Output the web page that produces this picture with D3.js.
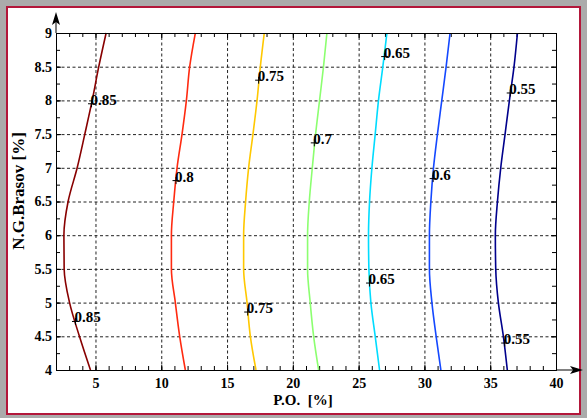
<!DOCTYPE html>
<html>
<head>
<meta charset="utf-8">
<script src="https://cdn.jsdelivr.net/npm/d3@7"></script>
<style>
	body { margin: 0; background: #ababab; }
	svg { display: block; }
</style>
</head>
<body>
<div id="grafika"></div>
<script>
// уровни по оси Y, на которых сняты контуры
const yLevels = [4, 4.5, 5, 5.5, 6, 6.5, 7, 7.5, 8, 8.5, 9];
const x085 = [4.62, 3.78, 3.03, 2.62, 2.6, 2.92, 3.61, 4.19, 4.75, 5.25, 5.81];
const x080 = [11.83, 11.4, 11.07, 10.77, 10.77, 10.95, 11.2, 11.58, 11.91, 12.16, 12.59];
const x075 = [17.2, 16.77, 16.52, 16.26, 16.26, 16.41, 16.64, 16.97, 17.28, 17.53, 17.83];
const x070 = [21.96, 21.58, 21.32, 21.12, 21.12, 21.25, 21.48, 21.73, 22.03, 22.33, 22.59];
const x065 = [26.59, 26.26, 25.93, 25.78, 25.75, 25.83, 26.01, 26.26, 26.51, 26.84, 27.15];
const x060 = [31.25, 30.89, 30.57, 30.38, 30.38, 30.49, 30.69, 30.99, 31.32, 31.65, 31.95];
const x055 = [36.3, 36.0, 35.62, 35.42, 35.39, 35.55, 35.8, 36.13, 36.46, 36.81, 37.07];

const levels = ["0.85", "0.8", "0.75", "0.7", "0.65", "0.6", "0.55"];
const levelColors = ["#880000", "#ff2a10", "#ffc800", "#8cff70", "#00dcff", "#1448ff", "#00008c"];
const contours = [x085, x080, x075, x070, x065, x060, x055];

const labelText = ["0.85", "0.85", "0.8", "0.75", "0.75", "0.7", "0.65", "0.65", "0.6", "0.55", "0.55"];
const labelX = [4.7, 3.48, 11.12, 17.4, 16.57, 21.63, 26.98, 25.83, 30.66, 36.52, 36.1];
const labelY = [7.95, 4.72, 6.81, 8.3, 4.86, 7.37, 8.65, 5.29, 6.84, 8.11, 4.4];

const xTicks = [5, 10, 15, 20, 25, 30, 35, 40];
const yTicks = [4, 4.5, 5, 5.5, 6, 6.5, 7, 7.5, 8, 8.5, 9];
const xMinor = d3.range(3, 40, 1);
const yMinor = d3.range(4.25, 9, 0.25);

const W = 587, H = 418;
const margins = { top: 33, right: 31, bottom: 48, left: 56 };
const x_scale = d3.scaleLinear().domain([2, 40]).range([margins.left, W - margins.right]);
const y_scale = d3.scaleLinear().domain([4, 9]).range([H - margins.bottom, margins.top]);
const x0 = x_scale.range()[0], x1 = x_scale.range()[1];
const y0 = y_scale.range()[0], y1 = y_scale.range()[1];

const svg = d3.select("#grafika")
	.append("svg")
	.attr("width", W)
	.attr("height", H);

// рамка
svg.append("rect").attr("width", W).attr("height", H).attr("fill", "#ababab");
svg.append("rect")
	.attr("x", 7).attr("y", 7)
	.attr("width", 573).attr("height", 407)
	.attr("fill", "#fff")
	.attr("stroke", "#b3173a")
	.attr("stroke-width", 2);

const fmt = d => String(d);
const font = "'Liberation Serif', 'Times New Roman', serif";

// сетка
svg.append("g")
	.attr("class", "grid")
	.attr("transform", `translate(0, ${y0})`)
	.call(d3.axisBottom(x_scale).tickValues(xTicks.filter(d => d < 40)).tickSize(-(y0 - y1)).tickFormat(""))
	.call(g => g.select(".domain").remove());
svg.append("g")
	.attr("class", "grid")
	.attr("transform", `translate(${x0}, 0)`)
	.call(d3.axisLeft(y_scale).tickValues(yTicks.filter(d => d > 4 && d < 9)).tickSize(-(x1 - x0)).tickFormat(""))
	.call(g => g.select(".domain").remove());
svg.selectAll(".grid line")
	.attr("stroke", "#222")
	.attr("stroke-dasharray", "3,2.5");

// мелкие засечки внутрь со всех сторон
const minor = [
	[d3.axisBottom(x_scale).tickValues(xMinor), `translate(0, ${y0})`],
	[d3.axisTop(x_scale).tickValues(xMinor), `translate(0, ${y1})`],
	[d3.axisLeft(y_scale).tickValues(yMinor), `translate(${x0}, 0)`],
	[d3.axisRight(y_scale).tickValues(yMinor), `translate(${x1}, 0)`]
];
minor.forEach(([ax, tr]) => {
	svg.append("g")
		.attr("transform", tr)
		.call(ax.tickSize(-4).tickFormat(""))
		.call(g => g.select(".domain").remove());
});

// контуры
const line = d3.line()
	.x(d => x_scale(d[0]))
	.y(d => y_scale(d[1]))
	.curve(d3.curveMonotoneY);

svg.append("g")
	.attr("class", "contours")
	.selectAll("path")
	.data(contours)
	.join("path")
	.attr("d", xs => line(xs.map((v, i) => [v, yLevels[i]])))
	.attr("fill", "none")
	.attr("stroke", (d, i) => levelColors[i])
	.attr("stroke-width", 1.6);

// оси
svg.append("g")
	.attr("class", "x axis")
	.attr("transform", `translate(0, ${y0})`)
	.call(d3.axisBottom(x_scale).tickValues(xTicks).tickSize(-5).tickPadding(8).tickFormat(fmt));
svg.append("g")
	.attr("class", "y axis")
	.attr("transform", `translate(${x0}, 0)`)
	.call(d3.axisLeft(y_scale).tickValues(yTicks).tickSize(-5).tickPadding(4).tickFormat(fmt));
svg.append("g")
	.attr("transform", `translate(0, ${y1})`)
	.call(d3.axisTop(x_scale).tickValues(xTicks).tickSize(-5).tickFormat(""));
svg.append("g")
	.attr("transform", `translate(${x1}, 0)`)
	.call(d3.axisRight(y_scale).tickValues(yTicks).tickSize(-5).tickFormat(""));

svg.selectAll(".axis text")
	.attr("font-family", font)
	.attr("font-size", 14)
	.attr("font-weight", "bold")
	.attr("fill", "#000");
svg.selectAll(".domain").attr("stroke", "#000");
svg.selectAll(".tick line").filter(function() { return !this.closest(".grid"); }).attr("stroke", "#000");

// стрелки осей
svg.append("line")
	.attr("x1", x0).attr("x2", x0)
	.attr("y1", y1).attr("y2", 16)
	.attr("stroke", "#000");
svg.append("path")
	.attr("d", `M${x0},12 L${x0 - 4},25 L${x0},22 L${x0 + 4},25 Z`)
	.attr("fill", "#000");
svg.append("line")
	.attr("x1", x1).attr("x2", 578)
	.attr("y1", y0).attr("y2", y0)
	.attr("stroke", "#000");
svg.append("path")
	.attr("d", `M583,${y0} L570,${y0 - 4} L573,${y0} L570,${y0 + 4} Z`)
	.attr("fill", "#000");

// подписи контуров
const labels = svg.append("g").attr("class", "clabels");
labels.selectAll("text")
	.data(labelText)
	.join("text")
	.attr("x", (d, i) => x_scale(labelX[i]) - 1)
	.attr("y", (d, i) => y_scale(labelY[i]) + 1)
	.attr("font-family", font)
	.attr("font-size", 15)
	.attr("font-weight", "bold")
	.text(d => d);
labels.selectAll("path")
	.data(labelText)
	.join("path")
	.attr("d", (d, i) => {
		const px = x_scale(labelX[i]), py = y_scale(labelY[i]);
		return `M${px - 3.5},${py}H${px + 3.5}M${px},${py - 3.5}V${py + 3.5}`;
	})
	.attr("stroke", "#000")
	.attr("stroke-width", 1);

// названия осей
svg.append("text")
	.attr("x", 303)
	.attr("y", 405)
	.attr("text-anchor", "middle")
	.attr("font-family", font)
	.attr("font-size", 15)
	.attr("font-weight", "bold")
	.attr("xml:space", "preserve")
	.text("P.O.  [%]");
svg.append("text")
	.attr("transform", "translate(24, 191) rotate(-90)")
	.attr("text-anchor", "middle")
	.attr("font-family", font)
	.attr("font-size", 17)
	.attr("font-weight", "bold")
	.text("N.G.Brasov [%]");
</script>
</body>
</html>
